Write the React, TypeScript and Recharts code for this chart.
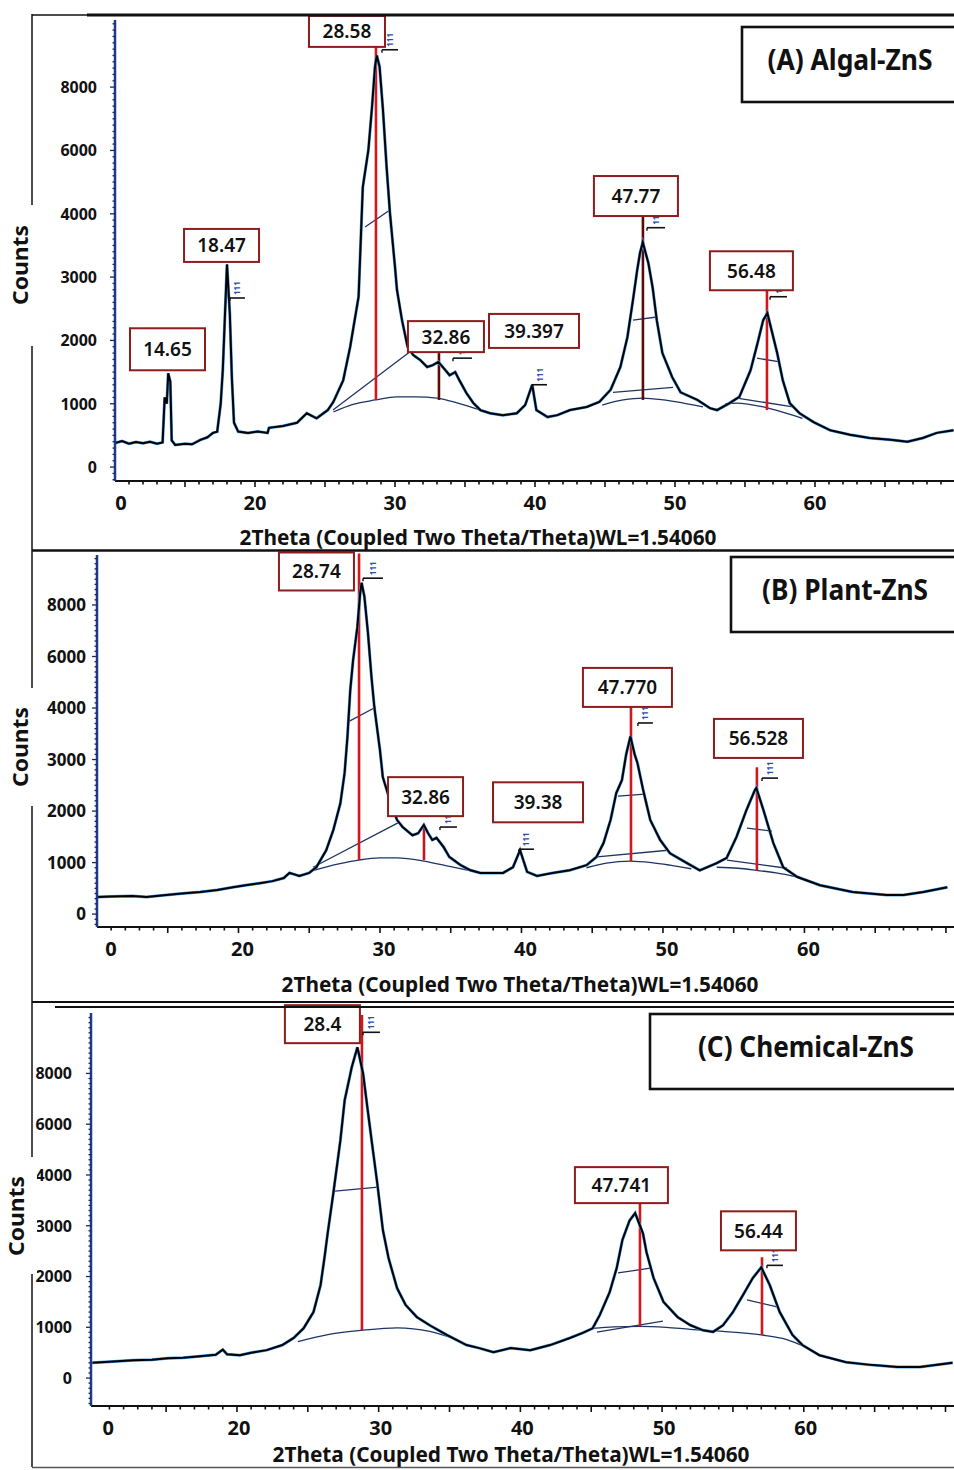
import React from 'react';
import { ComposedChart, Line, XAxis, YAxis, ReferenceLine, ReferenceDot } from 'recharts';

type Pt = [number, number];

const FONT = '"Noto Sans", "Open Sans", Arial, sans-serif';

// y axis of the original is not linear: the ticks are evenly spaced
const yTickCounts = [0, 1000, 2000, 3000, 4000, 6000, 8000];
const yTickLabels = ['0', '1000', '2000', '3000', '4000', '6000', '8000'];
const xTickValues = [10, 20, 30, 40, 50, 60];
const xTickLabels = ['0', '20', '30', '40', '50', '60'];
const xTitle = '2Theta (Coupled Two Theta/Theta)WL=1.54060';

// (A) Algal-ZnS  [2theta, counts]
const algalScan: Pt[] = [
  [10.0, 380], [10.5, 410], [11.0, 370], [11.5, 395], [12.0, 375], [12.5, 400], [13.0, 370], [13.4, 390],
  [13.55, 1100], [13.7, 1000], [13.8, 1480], [13.95, 1350], [14.05, 420], [14.3, 350], [15.0, 370], [15.5, 360],
  [16.1, 430], [16.6, 470], [17.0, 540], [17.3, 560], [17.55, 1000], [17.7, 1530], [17.86, 2430], [18.0, 3200],
  [18.2, 2430], [18.35, 1400], [18.5, 700], [18.8, 560], [19.5, 540], [20.2, 560], [20.9, 540], [21.0, 620],
  [22.0, 650], [23.0, 700], [23.7, 850], [24.4, 770], [25.2, 900], [25.6, 1030], [26.3, 1370], [26.8, 1900],
  [27.4, 2690], [27.7, 4840], [28.1, 6020], [28.36, 7380], [28.57, 8640], [28.7, 9000], [28.9, 8640], [29.14, 7280],
  [29.4, 5480], [29.64, 4020], [30.0, 3160], [30.14, 2800], [30.5, 2320], [30.9, 1900], [31.3, 1770], [31.8, 1690],
  [32.3, 1580], [32.7, 1610], [33.1, 1660], [33.6, 1530], [33.9, 1450], [34.3, 1500], [34.6, 1370], [35.1, 1170],
  [35.6, 1010], [36.1, 900], [36.8, 850], [37.7, 820], [38.7, 850], [39.3, 980], [39.8, 1300], [40.1, 900],
  [40.9, 790], [41.6, 820], [42.5, 900], [43.7, 950], [44.6, 1030], [45.4, 1220], [46.1, 1580], [46.6, 2050],
  [47.0, 2640], [47.3, 3110], [47.5, 3380], [47.7, 3550], [48.1, 3220], [48.4, 2840], [48.7, 2320], [49.1, 1800],
  [49.8, 1420], [50.4, 1180], [51.6, 1060], [52.5, 930], [53.0, 900], [53.9, 1010], [54.6, 1110], [55.4, 1530],
  [55.9, 1960], [56.3, 2320], [56.6, 2430], [56.9, 2160], [57.3, 1800], [57.7, 1370], [58.2, 1010], [58.9, 850],
  [59.9, 710], [61.1, 580], [62.5, 510], [63.9, 460], [65.4, 430], [66.6, 400], [67.7, 460], [68.7, 540], [69.9, 580],
];
const algalHumps: Pt[][] = [
  [[25.6, 870], [27.0, 990], [28.6, 1060], [30.1, 1110], [31.5, 1110], [33.0, 1090], [34.5, 1010], [36.1, 900]],
  [[44.8, 980], [46.3, 1060], [47.7, 1090], [49.2, 1060], [50.6, 1010], [52.0, 950]],
  [[53.6, 1000], [54.4, 1010], [56.3, 950], [57.8, 860], [59.1, 770]],
];
const algalFits: [Pt, Pt][] = [
  [[27.86, 3790], [29.64, 4120]], [[47.0, 2320], [48.71, 2370]], [[55.86, 1720], [57.5, 1660]],
  [[45.57, 1180], [49.86, 1260]], [[54.43, 1090], [58.43, 950]], [[25.57, 900], [31.07, 1820]],
];
const algalDrops: [number, number, number][] = [[28.64, 9270, 1060], [33.14, 1800, 1060], [47.71, 3970, 1060], [56.57, 2800, 900]];
const algalPeaks = ['28.58', '18.47', '14.65', '32.86', '39.397', '47.77', '56.48'];

// (B) Plant-ZnS
const plantScan: Pt[] = [
  [10.0, 330], [11.0, 340], [12.5, 350], [13.5, 330], [14.9, 370], [16.0, 400], [17.3, 430], [18.5, 470],
  [19.6, 520], [20.5, 560], [21.5, 600], [22.4, 640], [23.2, 700], [23.6, 800], [24.3, 740], [25.0, 800],
  [25.5, 910], [26.2, 1240], [26.7, 1630], [27.2, 2150], [27.5, 2740], [27.7, 3440], [27.9, 4700], [28.1, 5860],
  [28.4, 7140], [28.6, 8460], [28.7, 8860], [28.9, 8320], [29.15, 6920], [29.4, 5200], [29.6, 4040], [30.0, 3180],
  [30.2, 2660], [30.7, 2210], [31.2, 1830], [31.6, 1690], [32.3, 1530], [32.7, 1570], [33.1, 1730], [33.4, 1570],
  [33.7, 1440], [34.0, 1480], [34.5, 1300], [34.9, 1110], [35.7, 950], [36.4, 850], [37.1, 800], [37.6, 800],
  [38.7, 800], [39.4, 910], [39.9, 1240], [40.4, 820], [41.1, 740], [42.2, 800], [43.4, 850], [44.6, 950],
  [45.3, 1110], [45.8, 1380], [46.3, 1830], [46.7, 2350], [47.1, 2600], [47.4, 3100], [47.7, 3450], [48.0, 3100],
  [48.2, 2930], [48.6, 2410], [49.1, 1830], [49.8, 1440], [50.5, 1180], [51.7, 990], [52.6, 850], [53.8, 990],
  [54.5, 1090], [55.2, 1500], [55.9, 2020], [56.5, 2410], [56.6, 2450], [57.1, 2020], [57.8, 1380], [58.5, 910],
  [59.5, 720], [61.1, 560], [63.4, 430], [65.8, 370], [67.0, 370], [68.4, 430], [70.1, 520],
];
const plantHumps: Pt[][] = [
  [[25.3, 850], [27.0, 970], [28.5, 1050], [30.0, 1090], [31.2, 1090], [33.1, 1030], [35.0, 920], [37.1, 800]],
  [[44.6, 900], [46.0, 990], [47.7, 1030], [49.2, 1000], [50.5, 950], [52.0, 880]],
  [[53.8, 910], [55.3, 890], [56.6, 850], [58.0, 800], [59.5, 720]],
];
const plantFits: [Pt, Pt][] = [
  [[27.74, 3730], [29.72, 4040]], [[46.82, 2290], [48.73, 2330]], [[55.94, 1670], [57.7, 1610]],
  [[25.27, 910], [31.27, 1770]], [[45.34, 1110], [50.36, 1240]], [[54.52, 1050], [58.76, 890]],
];
const plantDrops: [number, number, number][] = [[28.52, 10000, 1050], [33.11, 1670, 1050], [47.74, 4040, 1030], [56.64, 2850, 850]];
const plantPeaks = ['28.74', '32.86', '39.38', '47.770', '56.528'];

// (C) Chemical-ZnS
const chemScan: Pt[] = [
  [9.8, 300], [11.0, 320], [12.7, 350], [14.0, 360], [15.1, 390], [16.2, 400], [17.4, 430], [18.5, 460],
  [19.0, 560], [19.3, 470], [20.2, 450], [21.0, 500], [22.1, 550], [23.2, 650], [24.0, 790], [24.7, 980],
  [25.4, 1300], [25.9, 1830], [26.2, 2420], [26.4, 2850], [26.8, 3640], [27.3, 5370], [27.6, 6940], [28.1, 8240],
  [28.5, 9030], [28.9, 8000], [29.2, 6670], [29.5, 5370], [29.9, 3840], [30.3, 2910], [30.7, 2360], [31.3, 1770],
  [31.9, 1440], [32.7, 1200], [33.6, 1040], [34.8, 850], [36.2, 650], [37.1, 590], [38.1, 510], [39.3, 590],
  [40.7, 550], [42.1, 650], [43.5, 790], [44.4, 890], [45.1, 980], [45.6, 1240], [46.3, 1690], [46.8, 2170],
  [47.2, 2720], [47.7, 3100], [48.1, 3250], [48.65, 2850], [48.9, 2480], [49.4, 1970], [50.1, 1500], [51.1, 1200],
  [52.0, 1040], [52.9, 940], [53.6, 910], [54.3, 1040], [55.0, 1300], [55.7, 1630], [56.4, 1970], [57.0, 2180],
  [57.6, 1830], [58.3, 1300], [59.2, 850], [59.9, 650], [61.1, 450], [63.0, 310], [64.7, 260], [66.6, 220],
  [68.2, 220], [70.5, 300],
];
const chemHumps: Pt[][] = [
  [[24.3, 720], [26.5, 860], [28.8, 940], [31.3, 990], [33.6, 920], [35.5, 760]],
  [[45.1, 980], [46.6, 1010], [48.4, 1020], [50.3, 1000], [52.0, 960], [54.3, 920], [57.0, 850], [58.5, 780], [59.8, 650]],
];
const chemFits: [Pt, Pt][] = [
  [[26.92, 3680], [29.95, 3760]], [[46.89, 2070], [49.29, 2170]], [[55.99, 1540], [58.11, 1400]], [[45.4, 905], [50.06, 1120]],
];
const chemDrops: [number, number, number][] = [[28.82, 10300, 940], [48.44, 3440, 1020], [57.05, 2380, 850]];
const chemPeaks = ['28.4', '47.741', '56.44'];

// counts -> even-spaced axis units
const toK = (c: number) => {
  if (c <= 4000) return c / 1000;
  if (c <= 8000) return 4 + (c - 4000) / 2000;
  return 6 + (c - 8000) / 2000;
};

interface PanelCfg {
  top: number; height: number; plotTop: number; xAxisH: number; axisX: number;
  xDomain: [number, number]; kDomain: [number, number];
  labelDx: number; firstLabelDx: number; yLabelGap: number; yFont: number;
  scan: Pt[]; humps: Pt[][]; fits: [Pt, Pt][]; drops: [number, number, number][]; dropColors: string[];
  peaks: string[]; peakAt: Pt[]; boxSize: Pt[]; tags: Pt[]; tagLen: number[];
}

const panels: PanelCfg[] = [
  {
    top: 0, height: 550, plotTop: 20, xAxisH: 69, axisX: 115, xDomain: [10, 69.93], kDomain: [-0.22, 7.06],
    labelDx: 0, firstLabelDx: 6, yLabelGap: 18, yFont: 16,
    scan: algalScan, humps: algalHumps, fits: algalFits, drops: algalDrops,
    dropColors: ['#d3171c', '#5c0b0b', '#5c0b0b', '#d3171c'],
    peaks: algalPeaks,
    peakAt: [[26.57, 9760], [17.61, 3500], [13.75, 1860], [33.64, 2060], [39.93, 2150], [47.21, 4560], [55.46, 3100]],
    boxSize: [[76, 31], [75, 33], [75, 42], [76, 31], [90, 34], [84, 40], [83, 39]],
    tags: [[29.07, 9180], [18.21, 2670], [48.0, 3780], [56.79, 2690], [39.79, 1300], [34.14, 1720]],
    tagLen: [16, 15, 18, 17, 15, 19],
  },
  {
    top: 550, height: 451, plotTop: 5, xAxisH: 74, axisX: 97, xDomain: [10, 70.57], kDomain: [-0.25, 6.97],
    labelDx: 4, firstLabelDx: 14, yLabelGap: 11, yFont: 17,
    scan: plantScan, humps: plantHumps, fits: plantFits, drops: plantDrops,
    dropColors: ['#d3171c', '#c0151a', '#d3171c', '#d3171c'],
    peaks: plantPeaks,
    peakAt: [[25.51, 9300], [33.22, 2280], [41.17, 2170], [47.49, 4800], [56.75, 3410]],
    boxSize: [[75, 38], [75, 39], [90, 40], [89, 39], [89, 39]],
    tags: [[28.8, 9040], [34.24, 1690], [39.82, 1260], [48.23, 3710], [57.0, 2640]],
    tagLen: [20, 17, 15, 15, 16],
  },
  {
    top: 1001, height: 469, plotTop: 12, xAxisH: 64, axisX: 91, xDomain: [9.7, 70.6], kDomain: [-0.55, 7.19],
    labelDx: 2, firstLabelDx: 13, yLabelGap: 19, yFont: 16,
    scan: chemScan, humps: chemHumps, fits: chemFits, drops: chemDrops,
    dropColors: ['#d3171c', '#d3171c', '#d3171c'],
    peaks: chemPeaks,
    peakAt: [[26.03, 9940], [47.13, 3800], [56.8, 2900]],
    boxSize: [[75, 38], [93, 36], [75, 39]],
    tags: [[28.89, 9620], [57.4, 2220]],
    tagLen: [17, 16],
  },
];

const toRows = (pts: Pt[]) => pts.map(([x, c]) => ({ x, k: toK(c) }));

function Panel({ p }: { p: PanelCfg }) {
  const yTicks: number[] = [];
  for (let i = Math.ceil(p.kDomain[0] * 10); i <= Math.floor(p.kDomain[1] * 10); i++) yTicks.push(i / 10);
  const xTicks: number[] = [];
  for (let d = 10; d <= 70; d++) xTicks.push(d);

  const renderYTick = (props: any) => {
    const { x, y, payload } = props;
    const v = payload.value as number;
    const li = yTickCounts.findIndex((c) => Math.abs(toK(c) - v) < 1e-6);
    return (
      <g>
        <line x1={x} x2={x - (li >= 0 ? 5 : 2.5)} y1={y} y2={y} stroke="#1b2a5a" strokeWidth={1.3} />
        {li >= 0 && (
          <text x={x - p.yLabelGap} y={y} dy={p.yFont * 0.36} textAnchor="end" fontSize={p.yFont} fontWeight={700}
            fontFamily={FONT} fill="#111">{yTickLabels[li]}</text>
        )}
      </g>
    );
  };

  const renderXTick = (props: any) => {
    const { x, y, payload } = props;
    const v = payload.value as number;
    const li = xTickValues.indexOf(v);
    const major = v % 5 === 0;
    const dx = li === 0 ? p.firstLabelDx : p.labelDx;
    return (
      <g>
        {v - p.xDomain[0] > 0.6 && (
          <line x1={x} x2={x} y1={y} y2={y + (major ? 6 : 3.5)} stroke="#111" strokeWidth={1.6} />
        )}
        {li >= 0 && (
          <text x={x + dx} y={y + 29} textAnchor="middle" fontSize={20} fontWeight={700} fontFamily={FONT} fill="#111">
            {xTickLabels[li]}
          </text>
        )}
      </g>
    );
  };

  const scanRows = toRows(p.scan);

  return (
    <div style={{ position: 'absolute', left: 0, top: p.top }}>
      <ComposedChart width={954} height={p.height} margin={{ top: p.plotTop, right: 0, bottom: 0, left: 0 }}>
        <XAxis type="number" dataKey="x" domain={p.xDomain} allowDataOverflow ticks={xTicks} interval={0}
          tick={renderXTick} tickLine={false} tickSize={0} tickMargin={0} height={p.xAxisH}
          axisLine={{ stroke: '#111', strokeWidth: 2 }} />
        <YAxis type="number" dataKey="k" domain={p.kDomain} allowDataOverflow ticks={yTicks} interval={0}
          tick={renderYTick} tickLine={false} tickSize={0} tickMargin={0} width={p.axisX}
          axisLine={{ stroke: '#1d3a8c', strokeWidth: 2.5 }} />

        {p.humps.map((h, i) => (
          <Line key={`h${i}`} data={toRows(h)} dataKey="k" type="monotone" stroke="#1e3466" strokeWidth={1.3}
            dot={false} isAnimationActive={false} />
        ))}
        {p.fits.map((f, i) => (
          <ReferenceLine key={`f${i}`} segment={[{ x: f[0][0], y: toK(f[0][1]) }, { x: f[1][0], y: toK(f[1][1]) }]}
            stroke="#1e3466" strokeWidth={1.3} ifOverflow="visible" />
        ))}
        {p.drops.map((d, i) => (
          <ReferenceLine key={`d${i}`} segment={[{ x: d[0], y: toK(d[1]) }, { x: d[0], y: toK(d[2]) }]}
            stroke={p.dropColors[i]} strokeWidth={2.6} ifOverflow="visible" />
        ))}

        <Line data={scanRows} dataKey="k" type="linear" stroke="#4a9be6" strokeWidth={3} dot={false}
          isAnimationActive={false} />
        <Line data={scanRows} dataKey="k" type="linear" stroke="#000" strokeWidth={2} dot={false}
          isAnimationActive={false} />

        {p.tags.map((t, i) => (
          <ReferenceDot key={`t${i}`} x={t[0]} y={toK(t[1])} ifOverflow="visible"
            shape={(s: any) => (
              <g>
                <line x1={s.cx} x2={s.cx + p.tagLen[i]} y1={s.cy} y2={s.cy} stroke="#111" strokeWidth={1.6} />
                <line x1={s.cx} x2={s.cx} y1={s.cy} y2={s.cy + 3} stroke="#111" strokeWidth={1.4} />
                <text transform={`translate(${s.cx + p.tagLen[i] / 2 + 3},${s.cy - 3}) rotate(-90)`} fontSize={8}
                  fontFamily={FONT} fontWeight={700} fill="#2c4fa8">111</text>
              </g>
            )} />
        ))}

        {p.peaks.map((txt, i) => {
          const [w, h] = p.boxSize[i];
          return (
            <ReferenceDot key={`p${i}`} x={p.peakAt[i][0]} y={toK(p.peakAt[i][1])} ifOverflow="visible"
              shape={(s: any) => (
                <g>
                  <rect x={s.cx - w / 2} y={s.cy - h / 2} width={w} height={h} fill="#fff" stroke="#8b1d1d" strokeWidth={2} />
                  <text x={s.cx} y={s.cy} dy={7} textAnchor="middle" fontSize={19} fontWeight={600}
                    fontFamily={FONT} fill="#111">{txt}</text>
                </g>
              )} />
          );
        })}
      </ComposedChart>
    </div>
  );
}

const frameGaps: Pt[] = [[205, 346], [688, 806], [1157, 1274]];
const countsAt: Pt[] = [[28, 265], [28, 747], [24, 1216]];
const titles = ['(A) Algal-ZnS', '(B) Plant-ZnS', '(C) Chemical-ZnS'];
const titleBox = [[742, 27], [731, 557], [650, 1014]];
const titleText: [number, number, number][] = [[850, 70, 165], [845, 600, 166], [806, 1057, 216]];
const xTitleAt: Pt[] = [[478, 545], [520, 992], [511, 1462]];

export default function App() {
  return (
    <div style={{ position: 'absolute', left: 0, top: 0, width: 954, height: 1470, background: '#fff', overflow: 'hidden' }}>
      {panels.map((p, i) => <Panel key={i} p={p} />)}
      <svg width={954} height={1470} style={{ position: 'absolute', left: 0, top: 0, pointerEvents: 'none' }}>
        <line x1={32} y1={15} x2={87} y2={15} stroke="#111" strokeWidth={1.5} />
        <line x1={87} y1={15} x2={954} y2={15} stroke="#111" strokeWidth={3} />
        <line x1={32} y1={14} x2={32} y2={1467} stroke="#111" strokeWidth={1.5} />
        <line x1={32} y1={550.5} x2={954} y2={550.5} stroke="#111" strokeWidth={2.5} />
        <line x1={32} y1={1002} x2={954} y2={1002} stroke="#111" strokeWidth={2} />
        <line x1={55} y1={1007} x2={954} y2={1007} stroke="#111" strokeWidth={2} />
        <line x1={32} y1={1467.5} x2={954} y2={1467.5} stroke="#555" strokeWidth={1.5} />
        {frameGaps.map(([a, b], i) => (
          <rect key={`g${i}`} x={27} y={a} width={10} height={b - a} fill="#fff" />
        ))}
        {countsAt.map(([x, y], i) => (
          <text key={`c${i}`} transform={`translate(${x},${y}) rotate(-90)`} textAnchor="middle" fontSize={21}
            fontWeight={700} fontFamily={FONT} fill="#111" textLength={80} lengthAdjust="spacingAndGlyphs">Counts</text>
        ))}
        {titles.map((t, i) => (
          <g key={`t${i}`}>
            <rect x={titleBox[i][0]} y={titleBox[i][1]} width={954 - titleBox[i][0] + 10} height={75} fill="#fff"
              stroke="#111" strokeWidth={2.6} />
            <text x={titleText[i][0]} y={titleText[i][1]} textAnchor="middle" fontSize={28} fontWeight={700}
              fontFamily={FONT} fill="#111" textLength={titleText[i][2]} lengthAdjust="spacingAndGlyphs">{t}</text>
          </g>
        ))}
        {xTitleAt.map(([x, y], i) => (
          <text key={`x${i}`} x={x} y={y} textAnchor="middle" fontSize={21} fontWeight={700} fontFamily={FONT}
            fill="#111" textLength={477} lengthAdjust="spacingAndGlyphs">{xTitle}</text>
        ))}
      </svg>
    </div>
  );
}
